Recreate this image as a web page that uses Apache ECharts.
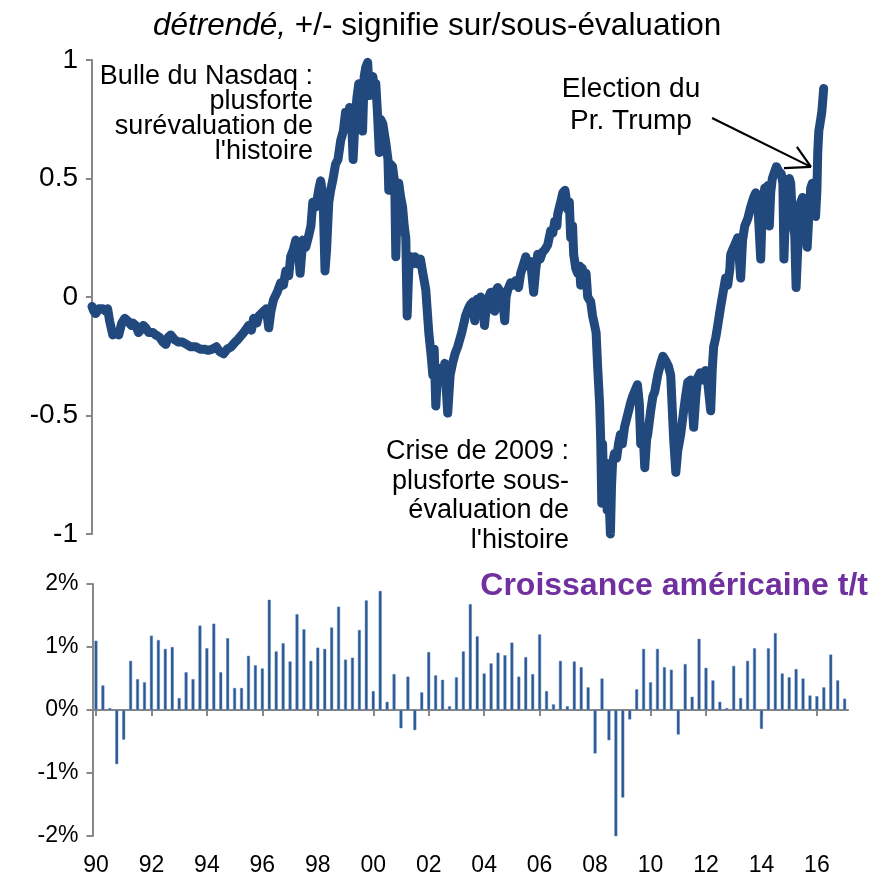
<!DOCTYPE html>
<html>
<head>
<meta charset="utf-8">
<script src="https://cdn.jsdelivr.net/npm/echarts@6/dist/echarts.min.js"></script>
<style>html,body{margin:0;padding:0;background:#fff}#c{width:885px;height:877px}</style>
</head>
<body>
<div id="c"></div>
<script>
// Valuation (detrended) : [year, value]
const valuation = [
[1990.00,-0.04],[1990.07,-0.06],[1990.14,-0.07],[1990.25,-0.05],[1990.40,-0.05],[1990.50,-0.06],[1990.58,-0.05],[1990.65,-0.10],[1990.77,-0.16],[1990.91,-0.15],[1990.99,-0.16],
[1991.10,-0.11],[1991.21,-0.09],[1991.32,-0.10],[1991.45,-0.12],[1991.51,-0.11],[1991.62,-0.12],[1991.72,-0.15],[1991.80,-0.14],[1991.90,-0.12],[1991.99,-0.13],
[1992.10,-0.15],[1992.25,-0.15],[1992.36,-0.16],[1992.50,-0.17],[1992.62,-0.19],[1992.73,-0.20],[1992.82,-0.17],[1992.91,-0.16],
[1993.05,-0.18],[1993.20,-0.19],[1993.35,-0.19],[1993.50,-0.20],[1993.65,-0.21],[1993.84,-0.21],
[1994.00,-0.22],[1994.15,-0.22],[1994.30,-0.225],[1994.45,-0.22],[1994.60,-0.21],[1994.72,-0.23],[1994.87,-0.24],
[1995.00,-0.22],[1995.15,-0.21],[1995.30,-0.19],[1995.39,-0.18],[1995.61,-0.15],[1995.80,-0.12],[1995.90,-0.14],[1995.98,-0.09],
[1996.10,-0.11],[1996.17,-0.08],[1996.35,-0.06],[1996.45,-0.05],[1996.54,-0.13],[1996.62,-0.06],[1996.72,-0.01],[1996.85,0.02],[1996.98,0.06],
[1997.08,0.05],[1997.17,0.11],[1997.28,0.09],[1997.35,0.17],[1997.45,0.20],[1997.54,0.24],[1997.62,0.22],[1997.70,0.10],[1997.80,0.24],[1997.91,0.21],
[1998.02,0.26],[1998.10,0.30],[1998.17,0.40],[1998.28,0.38],[1998.40,0.46],[1998.46,0.49],[1998.55,0.42],[1998.62,0.11],[1998.68,0.20],[1998.76,0.40],[1998.83,0.45],[1998.92,0.50],
[1999.01,0.56],[1999.10,0.58],[1999.20,0.66],[1999.30,0.70],[1999.38,0.78],[1999.46,0.75],[1999.53,0.80],[1999.60,0.76],[1999.66,0.58],[1999.72,0.72],[1999.80,0.84],[1999.87,0.90],[1999.95,0.88],
[2000.01,0.70],[2000.07,0.93],[2000.13,0.97],[2000.20,0.99],[2000.26,0.85],[2000.31,0.90],[2000.39,0.93],[2000.45,0.88],[2000.50,0.90],[2000.56,0.78],[2000.63,0.61],[2000.68,0.75],[2000.76,0.73],[2000.87,0.65],[2000.95,0.58],[2000.98,0.45],
[2001.05,0.56],[2001.12,0.55],[2001.20,0.48],[2001.24,0.17],[2001.30,0.45],[2001.35,0.48],[2001.42,0.42],[2001.49,0.38],[2001.55,0.30],[2001.61,0.25],[2001.66,-0.08],[2001.72,0.12],[2001.80,0.17],[2001.87,0.14],[2001.95,0.17],
[2002.05,0.14],[2002.15,0.16],[2002.24,0.10],[2002.35,0.03],[2002.46,-0.15],[2002.55,-0.25],[2002.61,-0.33],[2002.66,-0.22],[2002.72,-0.46],[2002.80,-0.30],[2002.90,-0.31],[2002.98,-0.36],
[2003.05,-0.28],[2003.16,-0.49],[2003.25,-0.33],[2003.34,-0.28],[2003.43,-0.24],[2003.53,-0.21],[2003.68,-0.15],[2003.82,-0.08],[2003.92,-0.05],
[2004.01,-0.03],[2004.10,-0.02],[2004.16,-0.10],[2004.24,-0.01],[2004.31,-0.04],[2004.38,0.00],[2004.45,-0.02],[2004.52,-0.12],[2004.60,-0.03],[2004.68,0.00],[2004.75,0.02],[2004.82,-0.05],[2004.90,-0.06],[2004.96,0.03],
[2005.01,0.04],[2005.12,0.02],[2005.20,-0.02],[2005.27,-0.10],[2005.32,0.00],[2005.38,0.03],[2005.49,0.06],[2005.60,0.05],[2005.68,0.07],[2005.78,0.04],[2005.86,0.10],[2005.97,0.14],
[2006.05,0.17],[2006.12,0.13],[2006.23,0.15],[2006.34,0.02],[2006.42,0.12],[2006.49,0.18],[2006.58,0.16],[2006.67,0.19],[2006.76,0.20],[2006.86,0.22],[2006.97,0.28],
[2007.05,0.27],[2007.12,0.32],[2007.20,0.30],[2007.23,0.35],[2007.34,0.40],[2007.42,0.44],[2007.50,0.45],[2007.55,0.41],[2007.60,0.37],[2007.66,0.40],[2007.71,0.25],[2007.78,0.30],[2007.82,0.18],[2007.90,0.12],[2007.97,0.10],
[2008.04,0.13],[2008.08,0.05],[2008.14,0.12],[2008.19,0.08],[2008.28,0.10],[2008.34,0.00],[2008.45,-0.02],[2008.52,-0.08],[2008.56,-0.10],[2008.65,-0.15],[2008.71,-0.30],[2008.78,-0.45],[2008.82,-0.60],[2008.86,-0.87],[2008.89,-0.62],[2008.93,-0.80],
[2009.00,-0.70],[2009.06,-0.90],[2009.11,-0.80],[2009.18,-1.00],[2009.22,-0.80],[2009.26,-0.70],[2009.33,-0.66],[2009.41,-0.68],[2009.48,-0.62],[2009.55,-0.58],[2009.62,-0.62],[2009.70,-0.55],[2009.81,-0.50],[2009.92,-0.45],
[2010.00,-0.42],[2010.07,-0.40],[2010.18,-0.37],[2010.25,-0.45],[2010.30,-0.62],[2010.38,-0.55],[2010.45,-0.72],[2010.52,-0.60],[2010.56,-0.58],[2010.67,-0.48],[2010.75,-0.42],[2010.82,-0.40],[2010.93,-0.33],
[2011.04,-0.28],[2011.12,-0.25],[2011.23,-0.27],[2011.32,-0.29],[2011.41,-0.33],[2011.52,-0.60],[2011.60,-0.74],[2011.67,-0.65],[2011.78,-0.58],[2011.89,-0.48],[2011.96,-0.42],
[2012.04,-0.36],[2012.15,-0.35],[2012.26,-0.55],[2012.34,-0.42],[2012.41,-0.34],[2012.50,-0.32],[2012.59,-0.35],[2012.70,-0.31],[2012.78,-0.36],[2012.89,-0.48],[2012.95,-0.30],
[2013.00,-0.21],[2013.08,-0.17],[2013.15,-0.12],[2013.26,-0.04],[2013.35,0.02],[2013.44,0.08],[2013.52,0.05],[2013.60,0.12],[2013.63,0.18],[2013.70,0.20],[2013.78,0.22],[2013.89,0.25],
[2014.00,0.08],[2014.07,0.24],[2014.15,0.30],[2014.26,0.33],[2014.37,0.38],[2014.48,0.42],[2014.56,0.44],[2014.63,0.40],[2014.74,0.16],[2014.80,0.38],[2014.89,0.46],[2014.95,0.44],
[2015.00,0.47],[2015.06,0.30],[2015.11,0.44],[2015.17,0.50],[2015.23,0.52],[2015.32,0.55],[2015.41,0.53],[2015.50,0.52],[2015.56,0.48],[2015.60,0.16],[2015.64,0.30],[2015.67,0.30],[2015.74,0.45],[2015.80,0.50],[2015.85,0.48],[2015.92,0.32],
[2016.00,0.26],[2016.05,0.04],[2016.11,0.20],[2016.17,0.32],[2016.22,0.40],[2016.29,0.42],[2016.35,0.35],[2016.40,0.32],[2016.46,0.21],[2016.51,0.32],[2016.59,0.46],[2016.65,0.48],[2016.70,0.45],[2016.77,0.34],[2016.82,0.45],[2016.85,0.61],[2016.89,0.70],[2016.96,0.75],
[2017.00,0.78],[2017.03,0.82],[2017.07,0.88]
];

// US GDP growth q/q (%), 1990Q1 .. 2017Q1
const gdpGrowth = [
 1.10, 0.39, 0.03,-0.86,-0.47, 0.78, 0.49, 0.44,
 1.18, 1.11, 0.97, 1.00, 0.19, 0.60, 0.49, 1.34,
 0.98, 1.37, 0.60, 1.14, 0.35, 0.35, 0.86, 0.71,
 0.66, 1.75, 0.93, 1.06, 0.77, 1.52, 1.28, 0.78,
 0.99, 0.97, 1.31, 1.64, 0.80, 0.83, 1.27, 1.74,
 0.30, 1.89, 0.13, 0.57,-0.29, 0.53,-0.32, 0.28,
 0.92, 0.55, 0.48, 0.06, 0.52, 0.93, 1.68, 1.17,
 0.58, 0.74, 0.91, 0.87, 1.07, 0.53, 0.84, 0.57,
 1.20, 0.30, 0.09, 0.78, 0.06, 0.77, 0.68, 0.36,
-0.69, 0.50,-0.48,-2.04,-1.39,-0.15, 0.33, 0.97,
 0.44, 0.97, 0.68, 0.64,-0.39, 0.73, 0.21, 1.13,
 0.67, 0.47, 0.13, 0.03, 0.70, 0.19, 0.78, 0.98,
-0.30, 0.98, 1.22, 0.58, 0.52, 0.65, 0.50, 0.23,
 0.22, 0.36, 0.88, 0.47, 0.18
];

const firstYear = 1990;
const quarters = gdpGrowth.map((_, i) => (firstYear + Math.floor(i / 4)) + 'T' + (i % 4 + 1));
const yearLabel = q => q.slice(2, 4);

const topTicks = [-1, -0.5, 0, 0.5, 1];
const bottomTicks = [-2, -1, 0, 1, 2];

// Annotation arrow (Trump election), in data coordinates
const arrowMain = [[2012.94, 0.755], [2016.60, 0.549]];
const arrowHead1 = [[2015.60, 0.544], [2016.60, 0.549]];
const arrowHead2 = [[2016.08, 0.633], [2016.60, 0.549]];

const FONT = "'Liberation Sans', Arial, sans-serif";
const GRAY = '#878787';

const chart = echarts.init(document.getElementById('c'), null, {renderer: 'canvas'});
chart.setOption({
  animation: false,
  backgroundColor: '#ffffff',
  textStyle: {fontFamily: FONT},
  title: {
    text: '{i|détrendé,} +/- signifie sur/sous-évaluation',
    left: 148, top: 5,
    textStyle: {fontFamily: FONT, fontSize: 31.5, fontWeight: 'normal', color: '#000',
      rich: {i: {fontFamily: FONT, fontSize: 31.5, fontStyle: 'italic', color: '#000'}}}
  },
  grid: [
    {left: 92, top: 60, width: 736, height: 474},
    {left: 92.5, top: 584, width: 755.6, height: 256}
  ],
  xAxis: [
    {gridIndex: 0, type: 'value', min: 1990, max: 2017.23, show: false},
    {gridIndex: 1, type: 'category', data: quarters, boundaryGap: true,
      axisLine: {show: true, onZero: true, lineStyle: {color: GRAY, width: 2}},
      axisTick: {show: true, interval: 7, alignWithLabel: true, length: 6, lineStyle: {color: GRAY, width: 2}},
      axisLabel: {show: false, interval: 7}, splitLine: {show: false}},
    {gridIndex: 1, type: 'category', data: quarters, boundaryGap: true, position: 'bottom',
      axisLine: {show: false, onZero: false}, axisTick: {show: false},
      axisLabel: {show: true, interval: 7, margin: 18, fontSize: 23, color: '#000', fontFamily: FONT,
        formatter: yearLabel}, splitLine: {show: false}}
  ],
  yAxis: [
    {gridIndex: 0, type: 'value', min: topTicks[0], max: topTicks[topTicks.length - 1], interval: 0.5,
      axisLine: {show: true, lineStyle: {color: GRAY, width: 2}},
      axisTick: {show: true, length: 6, lineStyle: {color: GRAY, width: 2}},
      axisLabel: {fontSize: 28, color: '#000', margin: 14, fontFamily: FONT},
      splitLine: {show: false}},
    {gridIndex: 1, type: 'value', min: bottomTicks[0], max: bottomTicks[bottomTicks.length - 1], interval: 1,
      axisLine: {show: true, lineStyle: {color: GRAY, width: 2}},
      axisTick: {show: true, length: 6, lineStyle: {color: GRAY, width: 2}},
      axisLabel: {fontSize: 23, color: '#000', margin: 14, fontFamily: FONT, formatter: '{value}%'},
      splitLine: {show: false}}
  ],
  series: [
    {type: 'line', xAxisIndex: 0, yAxisIndex: 0, data: valuation, showSymbol: false, symbol: 'none',
      sampling: 'none', clip: false,
      lineStyle: {color: '#22497d', width: 9, cap: 'round', join: 'round'},
      markLine: {silent: true, symbol: ['none', 'none'], animation: false,
        lineStyle: {color: '#000', width: 2.2, type: 'solid'}, label: {show: false},
        emphasis: {disabled: true},
        data: [
          [{coord: arrowMain[0]}, {coord: arrowMain[1]}],
          [{coord: arrowHead1[0]}, {coord: arrowHead1[1]}],
          [{coord: arrowHead2[0]}, {coord: arrowHead2[1]}]
        ]}},
    {type: 'bar', xAxisIndex: 1, yAxisIndex: 1, data: gdpGrowth, barWidth: 3,
      itemStyle: {color: '#2a5893', borderColor: '#5f87bd', borderWidth: 0.5}}
  ],
  graphic: [
    {type: 'text', x: 313, y: 64, style: {text: "Bulle du Nasdaq :\nplusforte\nsurévaluation de\nl'histoire",
      font: '27px ' + FONT, fill: '#000', align: 'right', verticalAlign: 'top', lineHeight: 25}},
    {type: 'text', x: 569, y: 437, style: {text: "Crise de 2009 :\nplusforte sous-\névaluation de\nl'histoire",
      font: '27px ' + FONT, fill: '#000', align: 'right', verticalAlign: 'top', lineHeight: 29.5}},
    {type: 'text', x: 631, y: 73, style: {text: "Election du\nPr. Trump",
      font: '28px ' + FONT, fill: '#000', align: 'center', verticalAlign: 'top', lineHeight: 32}},
    {type: 'text', x: 868, y: 586, style: {text: 'Croissance américaine t/t',
      font: 'bold 32px ' + FONT, fill: '#7030a0', align: 'right', verticalAlign: 'middle'}}
  ]
});
</script>
</body>
</html>
